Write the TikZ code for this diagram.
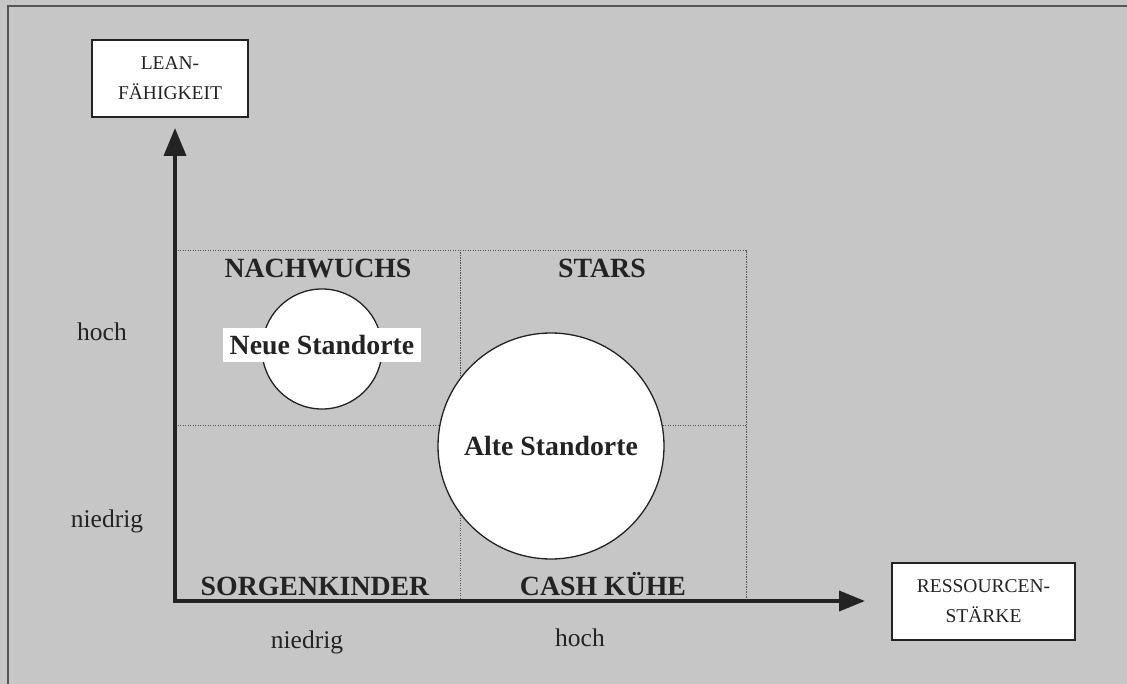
\documentclass[tikz,border=0pt]{standalone}
\usepackage{fontspec}
\setmainfont{Liberation Serif}
\usetikzlibrary{arrows.meta}
\definecolor{paper}{RGB}{198,198,198}
\definecolor{ink}{RGB}{35,35,35}
\definecolor{rule}{RGB}{85,85,85}

\begin{document}
\begin{tikzpicture}[x=1pt,y=-1pt,
  every node/.style={text=ink},
  axis/.style={line width=3.8pt, draw=ink, line join=miter,
    {Triangle[length=28pt,width=22pt]}-{Triangle[length=26pt,width=20pt]}},
  gridline/.style={draw=rule, line width=0.9pt, dash pattern=on 1.2pt off 1.3pt},
  quad/.style={font=\fontsize{27.8}{30}\selectfont\bfseries, anchor=base, inner sep=0pt},
  lvl/.style={font=\fontsize{25.5}{28}\selectfont, anchor=base, inner sep=0pt},
  axbox/.style={draw=ink, line width=1.7pt, fill=white, align=center,
    font=\fontsize{19.5}{30}\selectfont, inner sep=0pt},
  bubble/.style={circle, draw=ink, line width=1.3pt, fill=white, inner sep=0pt},
  tag/.style={quad, fill=white, inner xsep=7pt, inner ysep=7pt,
    text height=20pt, text depth=0pt}
]
% sheet and its frame
\fill[paper] (0,0) rectangle (1127,684);
\useasboundingbox (0,0) rectangle (1127,684);
\draw[rule, line width=1.5pt] (8,684) -- (8,6) -- (1127,6);

% axis points
\coordinate (o) at (175,601);
\coordinate (ytip) at (175,128);
\coordinate (xtip) at (865,601);

% dotted portfolio grid
\coordinate (gtl) at (175,250);
\coordinate (gtr) at (746,250);
\coordinate (gbr) at (746,601);
\coordinate (gml) at (175,425);
\coordinate (gmr) at (746,425);
\coordinate (gmt) at (460,250);
\coordinate (gmb) at (460,601);
\draw[gridline] (gtl) -- (gtr) -- (gbr);
\draw[gridline] (gml) -- (gmr);
\draw[gridline] (gmt) -- (gmb);

% axis title boxes
\node[axbox, minimum width=156pt, minimum height=77pt] (lean) at (170,78.5)
  {LEAN-\\FÄHIGKEIT};
\node[axbox, minimum width=183pt, minimum height=77pt] (res) at (983.5,601.5)
  {RESSOURCEN-\\STÄRKE};

% location bubbles
\node[bubble, minimum size=120pt] (small) at (322,349) {};
\node[bubble, minimum size=226pt] (big) at (551,446) {};
\node[tag] (neu) at (322,355) {Neue Standorte};
\node[quad] (alt) at (551,455) {Alte Standorte};

% quadrant names
\node[quad] (nach) at (318,278) {NACHWUCHS};
\node[quad] (stars) at (602,278) {STARS};
\node[quad] (sorg) at (315,595) {SORGENKINDER};
\node[quad] (cash) at (603,595) {CASH KÜHE};

% scale levels
\node[lvl] (yhi) at (102,341) {hoch};
\node[lvl] (ylo) at (107,527) {niedrig};
\node[lvl] (xlo) at (307,648) {niedrig};
\node[lvl] (xhi) at (580,646) {hoch};

% axes
\draw[axis] (ytip) -- (o) -- (xtip);
\end{tikzpicture}
\end{document}
